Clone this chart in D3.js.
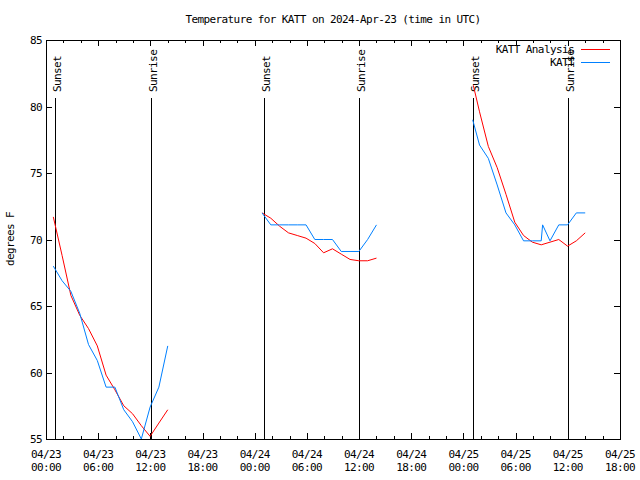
<!DOCTYPE html>
<html><head><meta charset="utf-8">
<script src="https://cdn.jsdelivr.net/npm/d3@7"></script>
<style>
body{margin:0;background:#fff;}
svg text{font-family:"DejaVu Sans Mono",monospace;font-size:11px;letter-spacing:-0.6px;fill:#000;}
</style></head>
<body><svg id="c" width="640" height="480"></svg>
<script>
// ---- data (hours since 2024-04-23 00:00 UTC) ----
const titleText = "Temperature for KATT on 2024-Apr-23 (time in UTC)";
const yLabel = "degrees F";
const seriesNames = ["KATT Analysis", "KATT"];
const xTickHours = [0,6,12,18,24,30,36,42,48,54,60,66];
const xTickDates = ["04/23","04/23","04/23","04/23","04/24","04/24","04/24","04/24","04/25","04/25","04/25","04/25"];
const xTickTimes = ["00:00","06:00","12:00","18:00","00:00","06:00","12:00","18:00","00:00","06:00","12:00","18:00"];
const yTicks = [55,60,65,70,75,80,85];

const sunHours = [1.07, 12.03, 25.10, 36.02, 49.13, 60.05];
const sunLabels = ["Sunset","Sunrise","Sunset","Sunrise","Sunset","Sunrise"];

const anaHours1 = [0.84,1.85,2.86,3.88,4.89,5.90,6.91,7.92,8.94,9.95,10.96,11.97,12.98,14.00];
const anaTemp1  = [71.7,68.8,65.8,64.3,63.3,62.0,59.8,58.7,57.5,56.9,56.0,55.2,56.2,57.2];
const obsHours1 = [0.84,1.85,2.86,3.88,4.89,5.90,6.91,7.92,8.94,9.95,10.96,11.97,12.98,14.00];
const obsTemp1  = [68.0,66.9,66.1,64.45,62.1,60.9,58.9,58.9,57.2,56.3,55.0,57.4,58.9,62.0];

const anaHours2 = [24.84,25.85,26.86,27.88,28.89,29.90,30.91,31.92,32.94,33.95,34.96,35.97,36.98,38.00];
const anaTemp2  = [72.0,71.6,71.0,70.5,70.3,70.1,69.7,69.0,69.3,68.9,68.5,68.4,68.4,68.6];
const obsHours2 = [24.84,25.85,26.86,27.88,28.89,29.90,30.91,31.92,32.94,33.95,34.96,35.97,36.98,38.00];
const obsTemp2  = [72.0,71.1,71.1,71.1,71.1,71.1,70.0,70.0,70.0,69.1,69.1,69.1,70.0,71.1];

const anaHours3 = [49.13,49.85,50.86,51.88,52.89,53.90,54.91,55.92,56.94,57.95,58.96,59.97,60.98,62.00];
const anaTemp3  = [81.6,79.6,77.0,75.4,73.4,71.3,70.3,69.8,69.6,69.8,70.0,69.5,69.9,70.5];
const obsHours3 = [49.06,49.85,50.86,51.88,52.89,53.90,54.91,55.92,56.94,57.10,57.95,58.96,59.97,60.98,62.00];
const obsTemp3  = [79.0,77.1,76.1,74.1,72.0,71.1,69.9,69.9,69.9,71.1,69.9,71.1,71.1,72.0,72.0];

const colors = ["#ff0000", "#0080ff"];

// ---- drawing ----
const svg = d3.select("#c");
const L = 46, R = 620, T = 40, B = 439;
const x = d3.scaleLinear().domain([0,66]).range([L,R]);
const y = d3.scaleLinear().domain([55,85]).range([B,T]);

svg.append("rect").attr("width",640).attr("height",480).attr("fill","#fff");

svg.append("text").attr("x",(L+R)/2).attr("y",23).attr("text-anchor","middle").text(titleText);

const g = svg.append("g").attr("shape-rendering","crispEdges");
// ticks
const minorHours = d3.range(0,67,2).filter(h => h%6 !== 0);
minorHours.forEach(h=>{
  const px = Math.round(x(h))+0.5;
  g.append("line").attr("x1",px).attr("x2",px).attr("y1",B).attr("y2",B-3).attr("stroke","#000");
  g.append("line").attr("x1",px).attr("x2",px).attr("y1",T).attr("y2",T+3).attr("stroke","#000");
});
xTickHours.forEach((h,i)=>{
  const px = Math.round(x(h))+0.5;
  g.append("line").attr("x1",px).attr("x2",px).attr("y1",B).attr("y2",B-6).attr("stroke","#000");
  g.append("line").attr("x1",px).attr("x2",px).attr("y1",T).attr("y2",T+6).attr("stroke","#000");
  const t = svg.append("text").attr("x",x(h)).attr("text-anchor","middle");
  t.append("tspan").attr("x",x(h)).attr("y",458).text(xTickDates[i]);
  t.append("tspan").attr("x",x(h)).attr("y",471).text(xTickTimes[i]);
});
yTicks.forEach(v=>{
  const py = Math.round(y(v))+0.5;
  g.append("line").attr("x1",L).attr("x2",L+6).attr("y1",py).attr("y2",py).attr("stroke","#000");
  g.append("line").attr("x1",R).attr("x2",R-6).attr("y1",py).attr("y2",py).attr("stroke","#000");
  svg.append("text").attr("x",42).attr("y",y(v)+4).attr("text-anchor","end").text(v);
});

// frame
g.append("rect").attr("x",L+0.5).attr("y",T+0.5).attr("width",R-L).attr("height",B-T)
  .attr("fill","none").attr("stroke","#000");

svg.append("text").attr("transform","translate(14,239) rotate(-90)").attr("text-anchor","middle").text(yLabel);

// sun lines
sunHours.forEach((h,i)=>{
  const px = Math.round(x(h))+0.5;
  g.append("line").attr("x1",px).attr("x2",px).attr("y1",98).attr("y2",B).attr("stroke","#000");
  svg.append("text").attr("transform",`translate(${x(h)+6},92) rotate(-90)`).attr("text-anchor","start").text(sunLabels[i]);
});

// data lines
const line = d3.line().x(d=>x(d[0])).y(d=>y(d[1]));
const segs = [
  [anaHours1, anaTemp1, 0],[anaHours2, anaTemp2, 0],[anaHours3, anaTemp3, 0],
  [obsHours1, obsTemp1, 1],[obsHours2, obsTemp2, 1],[obsHours3, obsTemp3, 1]
];
svg.append("clipPath").attr("id","clip").append("rect").attr("x",L).attr("y",T).attr("width",R-L+1).attr("height",B-T+1);
const dg = svg.append("g").attr("clip-path","url(#clip)");
segs.forEach(([hs,ts,c])=>{
  dg.append("path").datum(hs.map((h,i)=>[h,ts[i]])).attr("d",line)
    .attr("fill","none").attr("stroke",colors[c]).attr("stroke-width",1);
});

// legend
seriesNames.forEach((n,i)=>{
  const ly = 49 + i*13;
  svg.append("text").attr("x",574).attr("y",ly+4).attr("text-anchor","end").text(n);
  g.append("line").attr("x1",581).attr("x2",610).attr("y1",ly+0.5).attr("y2",ly+0.5).attr("stroke",colors[i]);
});
</script></body></html>
